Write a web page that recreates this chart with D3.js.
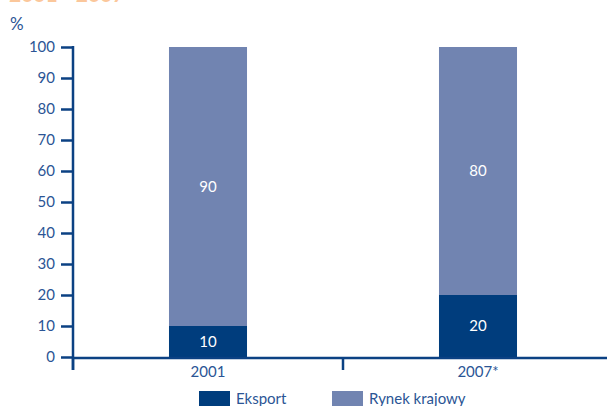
<!DOCTYPE html>
<html>
<head>
<meta charset="utf-8">
<script src="https://cdn.jsdelivr.net/npm/d3@7"></script>
<style>
  html, body { margin: 0; padding: 0; background: #fff; }
  svg { display: block; font-family: Lato, "Open Sans", sans-serif; }
</style>
</head>
<body>
<svg id="chart" width="607" height="406"></svg>
<script>
// Sales structure: export vs domestic market (%)
const years = ["2001", "2007*"];
const eksport = [10, 20];
const rynekKrajowy = [90, 80];
const yTicks = [0, 10, 20, 30, 40, 50, 60, 70, 80, 90, 100];
const seriesNames = ["Eksport", "Rynek krajowy"];

const colors = { eksport: "#003d7d", rynek: "#7184b1", axis: "#0b4183", text: "#2b5595" };
const fontSize = 15;

const svg = d3.select("#chart");

const x = d3.scaleBand().domain(years).range([73, 613]).paddingInner(0.711).paddingOuter(0.3555);
const y = d3.scaleLinear().domain([0, 100]).range([357, 47]);

// Title (mostly above the visible area)
svg.append("text").attr("x", 9).attr("y", 2)
  .attr("fill", "#fbc79b").attr("font-size", 21).attr("font-weight", "bold")
  .text("2001 - 2007");

// Unit label
svg.append("text").attr("x", 10).attr("y", 30)
  .attr("fill", colors.text).attr("font-size", 17).text("%");

// Stacked bars
const rows = years.map((yr, i) => ({ year: yr, eksport: eksport[i], rynek: rynekKrajowy[i] }));
const stack = d3.stack().keys(["eksport", "rynek"])(rows);

const g = svg.append("g");
stack.forEach(layer => {
  g.selectAll(null).data(layer).join("rect")
    .attr("x", d => x(d.data.year))
    .attr("width", x.bandwidth())
    .attr("y", d => y(d[1]))
    .attr("height", d => y(d[0]) - y(d[1]))
    .attr("fill", layer.key === "eksport" ? colors.eksport : colors.rynek);
  g.selectAll(null).data(layer).join("text")
    .attr("x", d => x(d.data.year) + x.bandwidth() / 2)
    .attr("y", d => (y(d[0]) + y(d[1])) / 2)
    .attr("dy", "0.35em")
    .attr("text-anchor", "middle")
    .attr("fill", "#fff").attr("font-size", fontSize)
    .text(d => d[1] - d[0]);
});

// Y axis
const yAxis = svg.append("g").attr("transform", "translate(73,0)")
  .call(d3.axisLeft(y).tickValues(yTicks).tickSize(12).tickPadding(6));
yAxis.select(".domain").remove();
yAxis.selectAll(".tick line").attr("stroke", colors.axis).attr("stroke-width", 2.5);
yAxis.selectAll(".tick text").attr("fill", colors.text).attr("font-size", fontSize)
  .attr("font-family", "Lato, 'Open Sans', sans-serif");
svg.append("line").attr("x1", 73).attr("x2", 73).attr("y1", 46).attr("y2", 370)
  .attr("stroke", colors.axis).attr("stroke-width", 2.5);

// X axis
svg.append("line").attr("x1", 72).attr("x2", 607).attr("y1", y(0) + 1).attr("y2", y(0) + 1)
  .attr("stroke", colors.axis).attr("stroke-width", 2.5);
const bounds = [x.range()[0], ...years.slice(1).map(yr => x(yr) - x.step() * x.paddingInner() / 2)];
svg.selectAll(null).data(bounds).join("line")
  .attr("x1", d => d).attr("x2", d => d)
  .attr("y1", y(0)).attr("y2", 370)
  .attr("stroke", colors.axis).attr("stroke-width", 2.5);
svg.selectAll(null).data(years).join("text")
  .attr("x", d => x(d) + x.bandwidth() / 2)
  .attr("y", 377)
  .attr("text-anchor", "middle")
  .attr("fill", colors.text).attr("font-size", fontSize)
  .text(d => d);

// Legend
const legendX = [199, 332];
const legend = svg.selectAll(null).data(seriesNames).join("g")
  .attr("transform", (d, i) => `translate(${legendX[i]},391)`);
legend.append("rect").attr("width", 31).attr("height", 16)
  .attr("fill", (d, i) => i === 0 ? colors.eksport : colors.rynek);
legend.append("text").attr("x", 37).attr("y", 13)
  .attr("fill", colors.text).attr("font-size", fontSize).text(d => d);
</script>
</body>
</html>
